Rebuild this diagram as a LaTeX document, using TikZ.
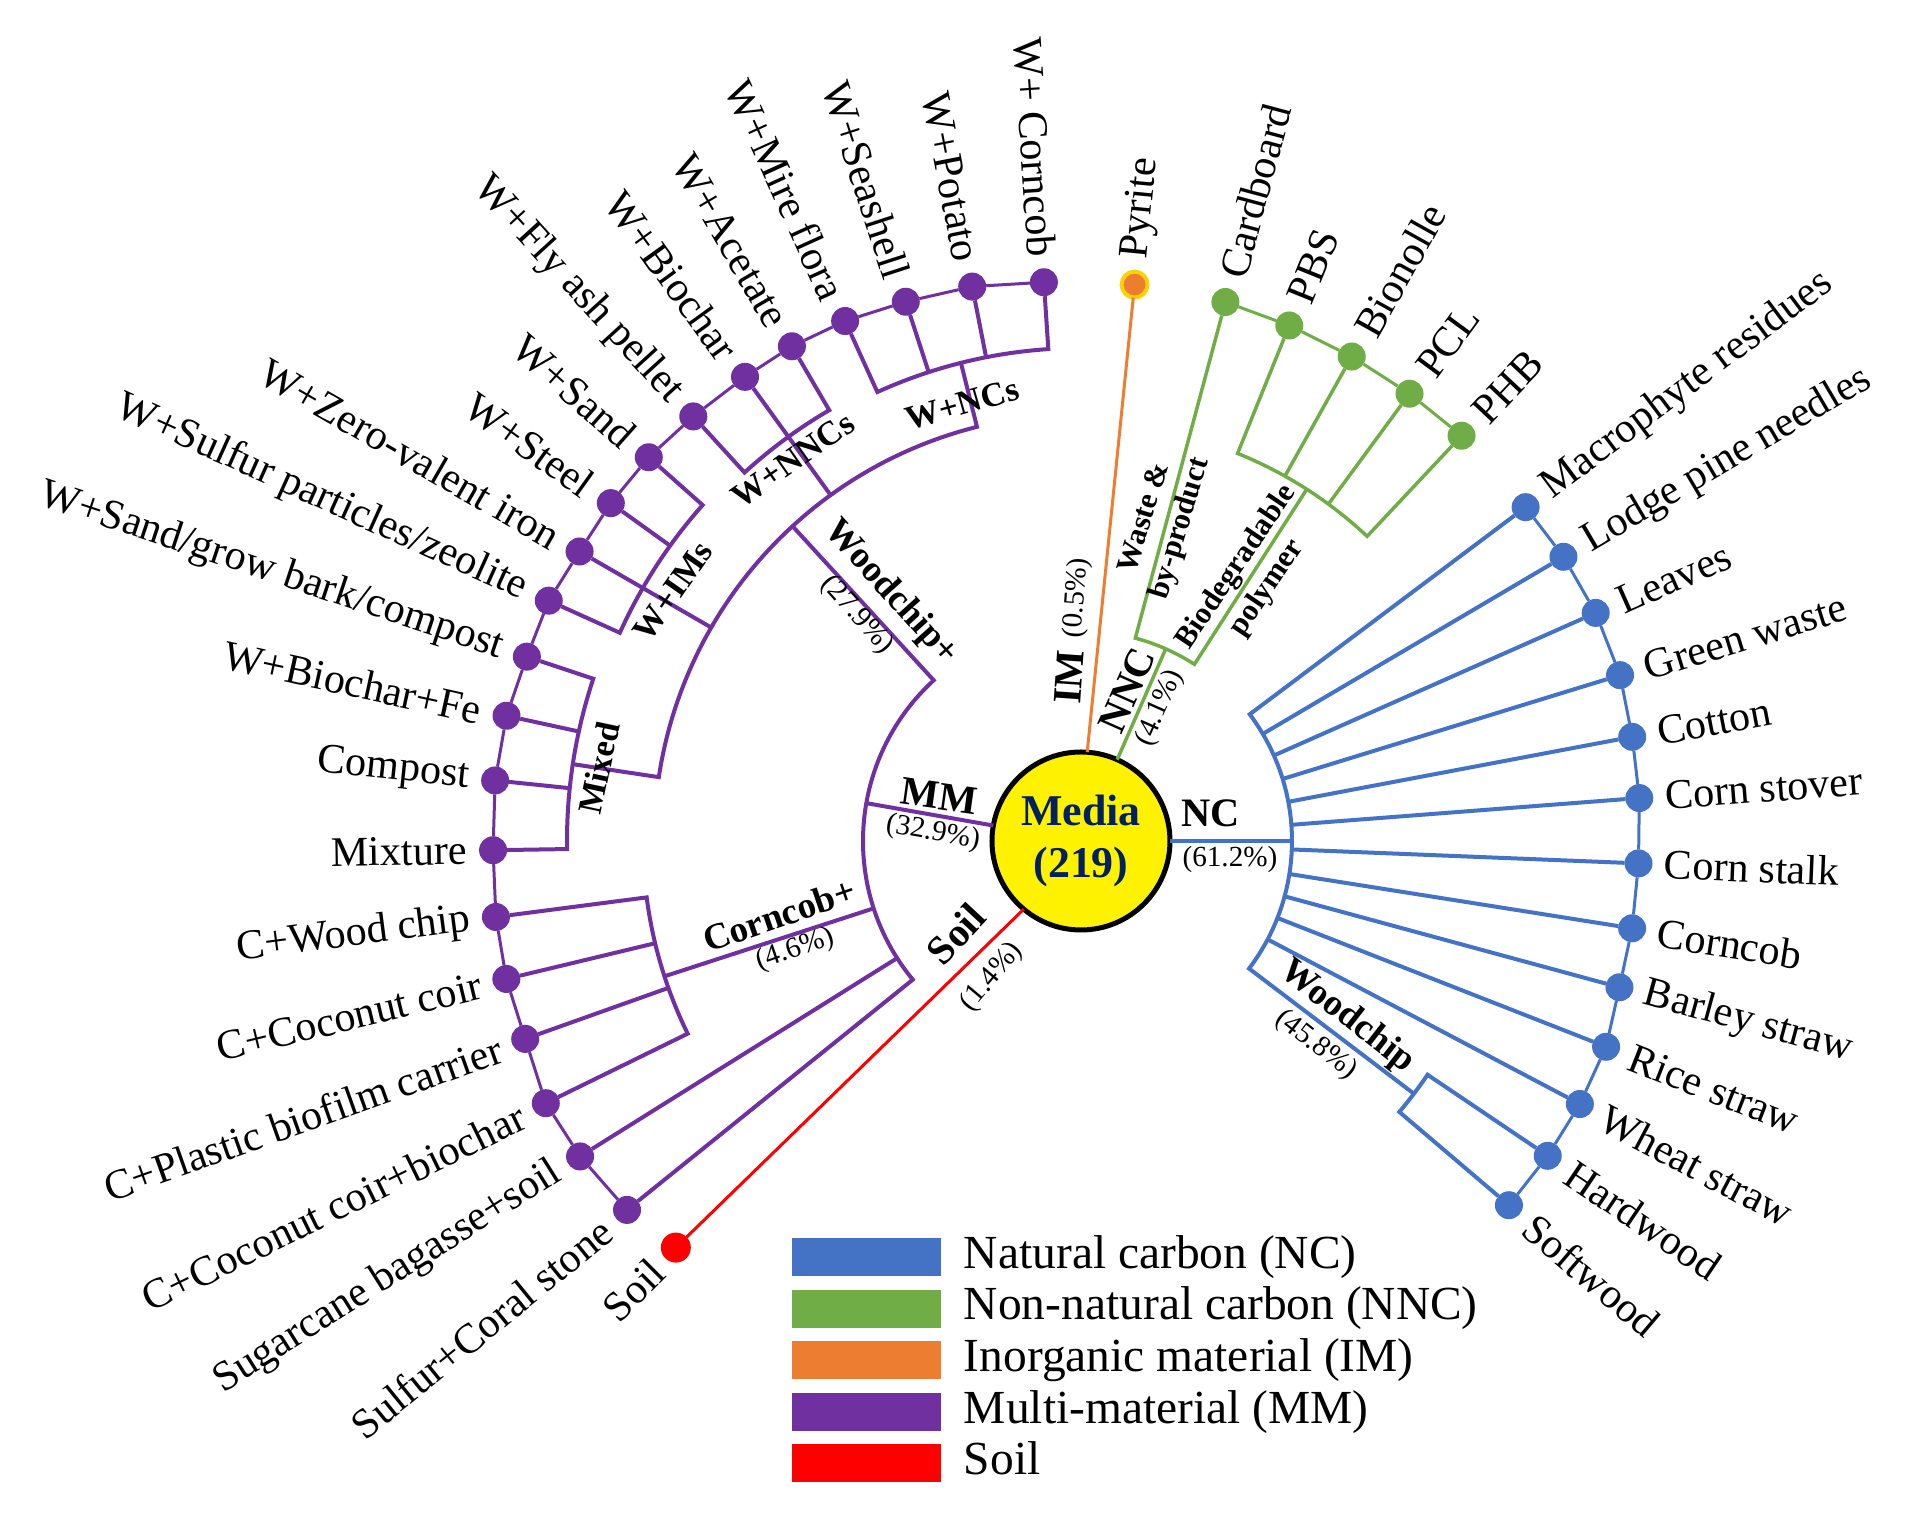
\documentclass[tikz,border=0pt]{standalone}
\usepackage{fontspec}
\setmainfont{Liberation Serif}
\usepackage{tikz}
\usetikzlibrary{positioning}
\usepackage{xcolor}
\definecolor{ncblue}{HTML}{4472C4}
\definecolor{nncgreen}{HTML}{70AD47}
\definecolor{imorange}{HTML}{ED7D31}
\definecolor{mmpurple}{HTML}{7030A0}
\definecolor{soilred}{HTML}{FF0000}
\definecolor{medianavy}{HTML}{002060}

\begin{document}
\begin{tikzpicture}[x=0.1mm, y=0.1mm, every node/.style={inner sep=0,outer sep=0}, node distance=2.3mm,
		leaf/.style={circle, minimum size=2.8mm},
		lbl/.style={font=\fontsize{12}{14}\selectfont},
		grp/.style={font=\fontsize{11.5}{13}\selectfont\bfseries},
		sub/.style={font=\fontsize{10.5}{12}\selectfont\bfseries},
		subs/.style={font=\fontsize{9.7}{11}\selectfont\bfseries},
		twoline/.style={font=\fontsize{8.7}{10.5}\selectfont\bfseries, align=center},
		pct/.style={font=\fontsize{8.3}{10}\selectfont},
		stem/.style={line width=0.4mm},
		gstem/.style={line width=0.35mm, nncgreen},
		ring/.style={line width=0.3mm},
		legbox/.style={minimum width=14.9mm, minimum height=3.8mm},
		legtext/.style={font=\fontsize{13.5}{16}\selectfont}]

		\useasboundingbox (-1081,-679) rectangle (839,841);

		%Centre
		\node[circle, draw, line width=0.5mm, fill=yellow, minimum size=17.8mm, align=center, text=medianavy, font=\fontsize{12.5}{15}\selectfont\bfseries] (media) at (0,0) {Media\\(219)};

		%Dots
		\node[leaf, fill=ncblue] (101) at (36.9:556) {};
		\node[leaf, fill=ncblue] (102) at (30.5:560) {};
		\node[leaf, fill=ncblue] (103) at (23.9:563) {};
		\node[leaf, fill=ncblue] (104) at (17.1:564) {};
		\node[leaf, fill=ncblue] (105) at (10.7:561) {};
		\node[leaf, fill=ncblue] (106) at (4.4:560) {};
		\node[leaf, fill=ncblue] (107) at (-2.3:558) {};
		\node[leaf, fill=ncblue] (108) at (-9:558) {};
		\node[leaf, fill=ncblue] (109) at (-15.2:558) {};
		\node[leaf, fill=ncblue] (110) at (-21.4:564) {};
		\node[leaf, fill=ncblue] (111) at (-27.8:564) {};
		\node[leaf, fill=ncblue] (112) at (-34:563) {};
		\node[leaf, fill=ncblue] (113) at (-40.4:562) {};

		\node[leaf, fill=nncgreen] (201) at (75:558) {};
		\node[leaf, fill=nncgreen] (202) at (68:556) {};
		\node[leaf, fill=nncgreen] (203) at (60.8:555) {};
		\node[leaf, fill=nncgreen] (204) at (53.7:555) {};
		\node[leaf, fill=nncgreen] (205) at (46.8:556) {};

		\node[leaf, fill=imorange, draw=yellow!70!orange, line width=0.4mm, minimum size=2.6mm] (301) at (84.5:559) {};

		\node[leaf, fill=mmpurple] (401) at (93.8:560) {};
		\node[leaf, fill=mmpurple] (402) at (101.1:565) {};
		\node[leaf, fill=mmpurple] (403) at (108:567) {};
		\node[leaf, fill=mmpurple] (404) at (114.4:571) {};
		\node[leaf, fill=mmpurple] (405) at (120.3:573) {};
		\node[leaf, fill=mmpurple] (406) at (125.9:573) {};
		\node[leaf, fill=mmpurple] (407) at (132.4:575) {};
		\node[leaf, fill=mmpurple] (408) at (138.4:578) {};
		\node[leaf, fill=mmpurple] (409) at (144.3:579) {};
		\node[leaf, fill=mmpurple] (410) at (150:579) {};
		\node[leaf, fill=mmpurple] (411) at (155.7:584) {};
		\node[leaf, fill=mmpurple] (412) at (161.6:584) {};
		\node[leaf, fill=mmpurple] (413) at (167.7:588) {};
		\node[leaf, fill=mmpurple] (414) at (174.1:589) {};
		\node[leaf, fill=mmpurple] (415) at (180.9:588) {};
		\node[leaf, fill=mmpurple] (416) at (187.4:590) {};
		\node[leaf, fill=mmpurple] (417) at (193.5:591) {};
		\node[leaf, fill=mmpurple] (418) at (199.6:590) {};
		\node[leaf, fill=mmpurple] (419) at (206.1:596) {};
		\node[leaf, fill=mmpurple] (420) at (212.2:592) {};
		\node[leaf, fill=mmpurple] (421) at (219.1:585) {};

		\node[leaf, fill=soilred, minimum size=3mm] (501) at (225.1:574) {};

		%Leaf texts
		\node[lbl, rotate=36.9, anchor=west] (t101) at (36.9:582) {Macrophyte residues};
		\node[lbl, rotate=30.5, anchor=west] (t102) at (30.5:586) {Lodge pine needles};
		\node[lbl, rotate=23.9, anchor=west] (t103) at (23.9:589) {Leaves};
		\node[lbl, rotate=17.1, anchor=west] (t104) at (17.1:590) {Green waste};
		\node[lbl, rotate=10.7, anchor=west] (t105) at (10.7:587) {Cotton};
		\node[lbl, rotate=4.4, anchor=west] (t106) at (4.4:586) {Corn stover};
		\node[lbl, rotate=-2.3, anchor=west] (t107) at (-2.3:584) {Corn stalk};
		\node[lbl, rotate=-9, anchor=west] (t108) at (-9:584) {Corncob};
		\node[lbl, rotate=-15.2, anchor=west] (t109) at (-15.2:584) {Barley straw};
		\node[lbl, rotate=-21.4, anchor=west] (t110) at (-21.4:590) {Rice straw};
		\node[lbl, rotate=-27.8, anchor=west] (t111) at (-27.8:590) {Wheat straw};
		\node[lbl, rotate=-34, anchor=west] (t112) at (-34:589) {Hardwood};
		\node[lbl, rotate=-40.4, anchor=west] (t113) at (-40.4:588) {Softwood};

		\node[lbl, rotate=75, anchor=west] (t201) at (75:584) {Cardboard};
		\node[lbl, rotate=68, anchor=west] (t202) at (68:582) {PBS};
		\node[lbl, rotate=60.8, anchor=west] (t203) at (60.8:581) {Bionolle};
		\node[lbl, rotate=53.7, anchor=west] (t204) at (53.7:581) {PCL};
		\node[lbl, rotate=46.8, anchor=west] (t205) at (46.8:582) {PHB};

		\node[lbl, rotate=84.5, anchor=west] (t301) at (84.5:585) {Pyrite};

		\node[lbl, rotate=-86.2, anchor=east] (t401) at (93.8:586) {W+ Corncob};
		\node[lbl, rotate=-78.9, anchor=east] (t402) at (101.1:591) {W+Potato};
		\node[lbl, rotate=-72, anchor=east] (t403) at (108:593) {W+Seashell};
		\node[lbl, rotate=-65.6, anchor=east] (t404) at (114.4:597) {W+Mire flora};
		\node[lbl, rotate=-59.7, anchor=east] (t405) at (120.3:599) {W+Acetate};
		\node[lbl, rotate=-54.1, anchor=east] (t406) at (125.9:599) {W+Biochar};
		\node[lbl, rotate=-47.6, anchor=east] (t407) at (132.4:601) {W+Fly ash pellet};
		\node[lbl, rotate=-41.6, anchor=east] (t408) at (138.4:604) {W+Sand};
		\node[lbl, rotate=-35.7, anchor=east] (t409) at (144.3:605) {W+Steel};
		\node[lbl, rotate=-30, anchor=east] (t410) at (150:605) {W+Zero-valent iron};
		\node[lbl, rotate=-24.3, anchor=east] (t411) at (155.7:610) {W+Sulfur particles/zeolite};
		\node[lbl, rotate=-18.4, anchor=east] (t412) at (161.6:610) {W+Sand/grow bark/compost};
		\node[lbl, rotate=-12.3, anchor=east] (t413) at (167.7:614) {W+Biochar+Fe};
		\node[lbl, rotate=-5.9, anchor=east] (t414) at (174.1:615) {Compost};
		\node[lbl, rotate=0.9, anchor=east] (t415) at (180.9:614) {Mixture};
		\node[lbl, rotate=7.4, anchor=east] (t416) at (187.4:616) {C+Wood chip};
		\node[lbl, rotate=13.5, anchor=east] (t417) at (193.5:617) {C+Coconut coir};
		\node[lbl, rotate=19.6, anchor=east] (t418) at (199.6:616) {C+Plastic biofilm carrier};
		\node[lbl, rotate=26.1, anchor=east] (t419) at (206.1:622) {C+Coconut coir+biochar};
		\node[lbl, rotate=32.2, anchor=east] (t420) at (212.2:618) {Sugarcane bagasse+soil};
		\node[lbl, rotate=39.1, anchor=east] (t421) at (219.1:611) {Sulfur+Coral stone};

		\node[lbl, rotate=45.1, anchor=east] (t501) at (225.1:600) {Soil};

		%Junctions
		\coordinate (nc) at (0:211);
		\coordinate (a101) at (36.9:211);
		\coordinate (a102) at (30.5:211);
		\coordinate (a103) at (23.9:211);
		\coordinate (a104) at (17.1:211);
		\coordinate (a105) at (10.7:211);
		\coordinate (a106) at (4.4:211);
		\coordinate (a107) at (-2.3:211);
		\coordinate (a108) at (-9:211);
		\coordinate (a109) at (-15.2:211);
		\coordinate (a110) at (-21.4:211);
		\coordinate (a111) at (-27.8:211);
		\coordinate (wc2) at (-37.2:418);
		\coordinate (a112) at (-34:418);

		\coordinate (nnc) at (66.2:210);
		\coordinate (a201) at (75:210);
		\coordinate (bp2) at (57.3:418);
		\coordinate (a202) at (68:418);
		\coordinate (a203) at (60.8:418);
		\coordinate (a204) at (53.7:418);

		\coordinate (mm) at (170:218);
		\coordinate (mmtop) at (132.5:218);
		\coordinate (wp) at (132.5:427);
		\coordinate (wptop) at (104.1:427);
		\coordinate (wnc) at (104.1:493);
		\coordinate (a401) at (93.8:493);
		\coordinate (a402) at (101.1:493);
		\coordinate (a403) at (108:493);
		\coordinate (wnn) at (125.9:427);
		\coordinate (a405) at (120.3:499);
		\coordinate (wim) at (150:427);
		\coordinate (a408) at (138.4:506);
		\coordinate (a409) at (144.3:506);
		\coordinate (mx) at (171.4:514);
		\coordinate (a412) at (161.6:514);
		\coordinate (a413) at (167.7:514);
		\coordinate (a414) at (174.1:514);
		\coordinate (cc) at (198:218);
		\coordinate (cc2) at (198:438);
		\coordinate (a416) at (187.4:438);
		\coordinate (a417) at (193.5:438);
		\coordinate (a418) at (199.6:438);
		\coordinate (a420) at (212.5:218);

		%Lines
		\draw[stem, ncblue] (media) -- (nc);
		\draw[stem, ncblue] (101) -- (a101) arc[start angle=36.9, end angle=-37.2, radius=211] -- (wc2);
		\draw[stem, ncblue] (112) -- (a112) arc[start angle=-34, end angle=-40.4, radius=418] -- (113);
		\draw[stem, ncblue] (a102) -- (102);
		\draw[stem, ncblue] (a103) -- (103);
		\draw[stem, ncblue] (a104) -- (104);
		\draw[stem, ncblue] (a105) -- (105);
		\draw[stem, ncblue] (a106) -- (106);
		\draw[stem, ncblue] (a107) -- (107);
		\draw[stem, ncblue] (a108) -- (108);
		\draw[stem, ncblue] (a109) -- (109);
		\draw[stem, ncblue] (a110) -- (110);
		\draw[stem, ncblue] (a111) -- (111);
		\draw[ring, ncblue] (101) -- (102) -- (103) -- (104) -- (105) -- (106) -- (107) -- (108) -- (109) -- (110) -- (111) -- (112) -- (113);

		\draw[gstem] (media.66) -- (nnc);
		\draw[gstem] (201) -- (a201) arc[start angle=75, end angle=57.3, radius=210] -- (bp2);
		\draw[gstem] (202) -- (a202) arc[start angle=68, end angle=46.8, radius=418] -- (205);
		\draw[gstem] (a203) -- (203);
		\draw[gstem] (a204) -- (204);
		\draw[ring, nncgreen] (201) -- (202) -- (203) -- (204) -- (205);

		\draw[ring, imorange] (media.86) -- (301);
		\draw[ring, soilred] (media.230) -- (501);

		\draw[stem, mmpurple] (media.170) -- (mm);
		\draw[stem, mmpurple] (wp) -- (mmtop) arc[start angle=132.5, end angle=219.5, radius=218] -- (421);
		\draw[stem, mmpurple] (wnc) -- (wptop) arc[start angle=104.1, end angle=171.4, radius=427] -- (mx);
		\draw[stem, mmpurple] (401) -- (a401) arc[start angle=93.8, end angle=114.4, radius=493] -- (404);
		\draw[stem, mmpurple] (a402) -- (402);
		\draw[stem, mmpurple] (a403) -- (403);
		\draw[stem, mmpurple] (405) -- (a405) arc[start angle=120.3, end angle=132.4, radius=499] -- (407);
		\draw[stem, mmpurple] (wnn) -- (406);
		\draw[stem, mmpurple] (408) -- (a408) arc[start angle=138.4, end angle=155.7, radius=506] -- (411);
		\draw[stem, mmpurple] (a409) -- (409);
		\draw[stem, mmpurple] (wim) -- (410);
		\draw[stem, mmpurple] (412) -- (a412) arc[start angle=161.6, end angle=180.9, radius=514] -- (415);
		\draw[stem, mmpurple] (a413) -- (413);
		\draw[stem, mmpurple] (a414) -- (414);
		\draw[stem, mmpurple] (cc) -- (cc2);
		\draw[stem, mmpurple] (416) -- (a416) arc[start angle=187.4, end angle=206.1, radius=438] -- (419);
		\draw[stem, mmpurple] (a417) -- (417);
		\draw[stem, mmpurple] (a418) -- (418);
		\draw[stem, mmpurple] (a420) -- (420);
		\draw[ring, mmpurple] (401) -- (402) -- (403) -- (404) -- (405) -- (406) -- (407) -- (408) -- (409) -- (410) -- (411) -- (412) -- (413) -- (414) -- (415) -- (416) -- (417) -- (418) -- (419) -- (420) -- (421);

		%Group labels
		\node[grp] (lnc) at (130,28) {NC};
		\node[pct] (pnc) at (149,-18) {(61.2\%)};
		\node[grp, rotate=-8] (lmm) at (-142,45) {MM};
		\node[pct, rotate=-10] (pmm) at (-148,8) {(32.9\%)};
		\node[grp, rotate=47] (lsoil) at (-125,-93) {Soil};
		\node[pct, rotate=50] (psoil) at (-89,-136) {(1.4\%)};
		\node[grp, rotate=86] (lim) at (-12,164) {IM};
		\node[pct, rotate=86] (pim) at (-4,243) {(0.5\%)};
		\node[grp, rotate=66] (lnnc) at (46,151) {NNC};
		\node[pct, rotate=66] (pnnc) at (79,133) {(4.1\%)};
		\node[twoline, rotate=73] (lwaste) at (75.5:328) {Waste \&\\by-product};
		\node[twoline, rotate=56] (lbio) at (57:314) {Biodegradable\\polymer};
		\node[sub, rotate=-38] (lwc) at (266,-176) {Woodchip};
		\node[pct, rotate=-38] (pwc) at (235,-204) {(45.8\%)};
		\node[sub, rotate=-48] (lwp) at (-190,248) {Woodchip+};
		\node[pct, rotate=-48] (pwp) at (-224,226) {(27.9\%)};
		\node[sub, rotate=19] (lcc) at (-302,-74) {Corncob+};
		\node[pct, rotate=19] (pcc) at (-286,-109) {(4.6\%)};
		\node[subs, rotate=16] (lwnc) at (-119,437) {W+NCs};
		\node[subs, rotate=35] (lwnn) at (-288,381) {W+NNCs};
		\node[subs, rotate=55] (lwim) at (-408,250) {W+IMs};
		\node[subs, rotate=78] (lmix) at (-482,73) {Mixed};

		%Legend
		\node[legbox, fill=ncblue] (61) at (-214.5,-416) {};
		\node[legbox, fill=nncgreen] (62) [below=1.36mm of 61] {};
		\node[legbox, fill=imorange] (63) [below=1.36mm of 62] {};
		\node[legbox, fill=mmpurple] (64) [below=1.36mm of 63] {};
		\node[legbox, fill=soilred] (65) [below=1.36mm of 64] {};
		\node[legtext] (71) [right=of 61] {Natural carbon (NC)\strut};
		\node[legtext] (72) [right=of 62] {Non-natural carbon (NNC)\strut};
		\node[legtext] (73) [right=of 63] {Inorganic material (IM)\strut};
		\node[legtext] (74) [right=of 64] {Multi-material (MM)\strut};
		\node[legtext] (75) [right=of 65] {Soil\strut};
	\end{tikzpicture}
\end{document}
